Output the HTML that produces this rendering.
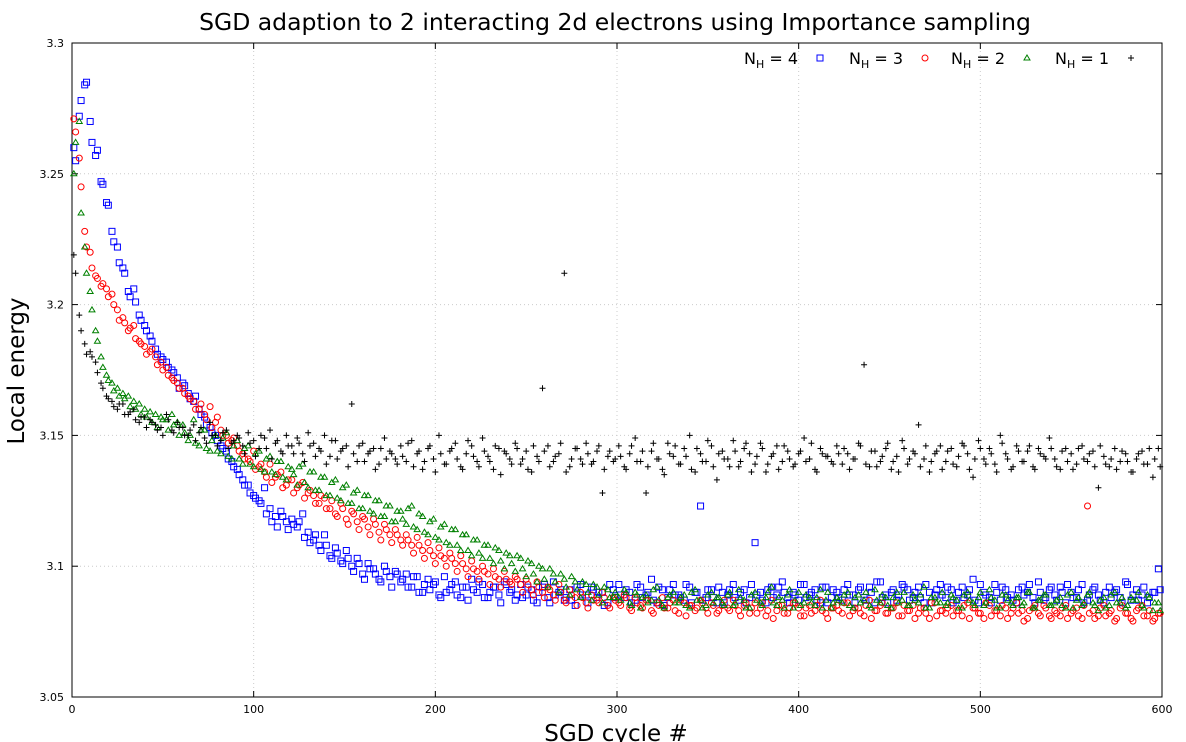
<!DOCTYPE html>
<html><head><meta charset="utf-8"><style>
html,body{margin:0;padding:0;background:#fff;}
svg{display:block;font-family:"DejaVu Sans","Liberation Sans",sans-serif;}
</style></head><body>
<svg id="chart" width="1186" height="742" xmlns="http://www.w3.org/2000/svg">
<text x="615" y="30" text-anchor="middle" font-size="23.5">SGD adaption to 2 interacting 2d electrons using Importance sampling</text>
<text transform="translate(24,371) rotate(-90)" text-anchor="middle" font-size="23">Local energy</text>
<text x="616" y="741" text-anchor="middle" font-size="23">SGD cycle #</text>
<g id="grid"></g>
<g id="axes"></g>
<g id="marks"></g>
<g id="legend"></g>
</svg>
<script>
// Values stored as offsets in units of 0.001 above 3.0 (local energy = 3 + v/1000)
const cyclesA = [];
for (let c = 1; c < 600; c += 3) cyclesA.push(c);
const cyclesB = [];
for (let c = 2; c < 600; c += 3) cyclesB.push(c);
const xTicks = [0,100,200,300,400,500,600];
const yTicks = [3.05,3.1,3.15,3.2,3.25,3.3];
const yTickLabels = ["3.05","3.1","3.15","3.2","3.25","3.3"];
const seriesNames = ["N_H = 4","N_H = 3","N_H = 2","N_H = 1"];
const nh4Energy = [260,272,284,270,257,247,239,228,222,214,205,206,196,192,188,183,180,178,175,172,
170,166,163,160,157,153,150,146,144,140,137,133,131,127,125,130,122,119,121,117,
118,115,120,113,110,108,112,104,107,102,106,100,103,97,101,99,95,100,96,98,
94,97,92,96,90,95,93,89,96,91,94,88,92,95,90,93,88,92,89,94,
90,87,93,89,91,86,92,88,94,90,87,91,85,93,89,92,88,90,86,91,
93,88,90,87,92,89,95,86,91,88,93,89,87,92,90,123,88,91,86,90,
89,93,87,91,88,109,90,86,92,89,94,88,90,87,93,89,91,86,92,88,
90,87,93,89,91,88,92,86,94,89,90,87,93,91,88,92,86,90,89,93,
88,91,87,92,89,95,86,90,88,93,87,91,89,86,92,90,88,94,87,91,
89,92,86,90,88,93,87,91,89,86,92,90,88,94,87,91,89,86,90,99];
const nh4EnergyB = [255,278,285,262,259,246,238,224,216,212,203,201,194,190,186,181,179,176,174,168,
169,164,165,158,154,151,148,145,141,138,135,131,128,126,124,120,117,115,119,114,
116,117,111,109,112,106,108,103,105,101,103,98,101,95,99,97,94,98,92,97,
95,92,96,90,93,91,94,88,90,93,89,92,87,91,94,88,90,92,86,93,
91,89,88,92,87,90,93,86,89,91,88,87,92,89,86,91,90,85,93,88,
89,91,86,93,88,90,87,92,85,91,89,88,93,86,90,87,91,88,92,86,
91,88,90,86,93,89,87,91,88,92,90,86,89,93,88,90,87,92,86,91,
88,91,89,86,92,87,90,94,88,86,91,89,92,87,90,88,93,86,91,89,
92,86,90,88,91,87,93,89,86,90,92,88,87,91,89,93,86,90,88,92,
87,90,93,88,91,86,89,92,87,90,88,91,86,93,89,87,92,88,90,91];
const nh3Energy = [271,256,228,220,211,207,206,204,198,195,190,192,186,184,182,180,178,176,172,170,
168,165,163,160,158,161,155,152,150,148,146,143,141,144,138,136,139,134,136,131,
133,130,132,128,127,124,126,122,120,124,118,121,117,119,115,118,113,116,112,114,
110,112,108,111,106,109,104,107,103,105,101,104,99,102,98,100,97,99,95,98,
94,96,93,95,91,94,90,92,89,93,87,91,88,90,86,89,87,90,85,88,
86,89,84,88,85,87,83,86,88,84,87,82,86,85,83,87,84,86,82,85,
84,87,83,85,82,86,84,81,87,83,85,82,86,84,81,85,83,87,82,84,
85,82,86,83,84,81,87,83,85,82,84,86,81,83,85,82,84,80,86,83,
82,85,83,81,86,84,82,80,85,83,81,84,82,86,83,80,84,82,85,81,
83,81,85,82,84,80,123,83,81,85,82,79,84,82,80,83,85,81,79,82];
const nh3EnergyB = [266,245,222,214,210,208,203,200,194,193,191,187,185,181,183,177,175,173,171,168,
166,164,160,162,156,153,157,150,147,149,144,141,140,137,139,134,132,135,130,133,
128,131,126,129,124,127,122,125,119,122,116,120,114,118,112,116,110,114,109,112,
108,110,105,108,103,106,101,104,100,103,98,101,96,99,95,98,93,96,92,95,
93,95,90,93,89,92,88,91,87,90,86,89,85,88,84,87,86,88,84,87,
85,88,83,86,84,87,82,85,84,86,83,87,81,85,84,86,82,85,83,87,
83,85,81,86,84,82,86,83,80,85,82,84,86,81,84,82,85,83,80,84,
83,86,81,84,82,85,80,83,86,82,84,81,85,83,80,84,82,86,81,83,
84,81,83,85,80,84,82,86,81,83,85,80,84,82,79,83,85,81,84,80,
82,84,80,83,81,85,82,80,84,81,83,80,85,82,79,84,81,83,80,82];
const nh2Energy = [250,270,222,205,190,180,173,170,168,166,165,163,162,160,159,158,157,156,158,155,
154,148,156,146,152,144,150,143,151,141,148,139,146,138,144,136,142,135,140,133,
137,131,139,130,136,129,134,127,133,125,131,124,129,122,127,120,125,119,123,117,
121,116,123,114,119,112,118,110,116,108,114,106,112,104,110,103,108,101,106,99,
104,98,103,96,101,94,99,92,97,90,95,89,94,88,93,87,92,86,91,88,
88,91,86,90,84,89,87,92,85,88,90,86,89,84,91,87,85,90,88,86,
89,85,91,87,84,90,86,88,92,85,87,89,84,90,86,88,85,91,87,84,
88,86,90,84,89,87,85,91,86,88,84,90,87,85,89,86,92,84,88,86,
85,89,87,84,90,86,88,85,91,87,84,89,86,88,85,90,84,87,89,85,
86,88,84,90,87,85,89,86,83,88,85,90,86,84,88,87,85,89,83,86];
const nh2EnergyB = [262,235,212,198,186,176,171,167,165,164,161,160,158,157,155,153,156,152,154,150,
151,150,147,152,145,148,144,149,142,146,141,145,139,143,137,141,136,140,134,138,
135,138,132,136,129,134,127,132,126,130,124,128,122,127,121,125,119,123,117,121,
118,122,115,120,113,117,111,115,109,114,108,112,106,110,105,108,103,107,102,105,
101,104,99,102,97,100,95,99,94,97,92,96,91,94,90,93,89,92,88,90,
87,90,85,89,88,86,91,87,84,89,86,88,85,90,87,84,89,86,88,85,
90,86,88,84,89,87,85,90,86,88,84,91,87,85,89,86,88,84,90,86,
87,89,85,88,86,90,84,87,89,85,88,86,90,85,87,89,84,88,86,90,
86,88,84,89,87,85,90,86,88,84,89,87,85,88,86,90,84,87,89,85,
87,85,89,84,88,86,90,85,87,84,89,86,88,85,87,90,84,88,86,83];
const nh1Energy = [219,196,185,182,178,170,165,163,160,162,158,160,155,157,156,154,153,158,152,155,
153,150,154,151,149,155,150,148,152,147,150,146,151,148,145,149,152,147,144,150,
146,149,143,151,147,145,150,142,148,144,146,162,140,147,143,145,139,149,144,141,
146,140,148,143,137,145,141,150,139,144,147,138,143,146,140,149,142,137,145,144,
141,147,139,144,136,142,168,146,140,143,212,138,145,141,147,139,144,128,142,140,
146,138,143,149,140,128,144,141,137,147,142,139,145,150,136,143,140,146,133,144,
141,148,138,145,143,139,147,136,142,146,140,144,138,143,149,141,137,145,142,140,
146,139,143,141,147,177,138,144,140,145,137,142,148,139,144,154,141,136,143,146,
140,145,138,147,143,134,148,141,145,139,150,143,137,146,140,144,138,145,142,149,
141,137,145,143,139,146,140,144,130,142,138,145,140,143,136,141,144,139,134,145];
const nh1EnergyB = [212,190,181,180,174,168,164,161,162,158,159,156,157,153,155,152,150,156,151,153,
150,152,148,153,147,150,146,151,145,148,149,143,147,142,150,145,141,148,143,146,
143,147,140,146,142,144,139,148,141,145,138,143,146,140,144,137,145,141,143,139,
142,147,138,144,140,146,136,143,139,145,141,137,148,142,138,144,140,146,135,143,
139,145,141,137,146,140,144,138,142,147,136,141,145,139,143,140,146,137,144,141,
142,137,146,140,144,138,147,141,135,143,146,139,142,137,145,140,148,138,143,141,
138,144,140,147,136,142,145,139,143,137,146,141,139,144,140,147,136,143,142,139,
143,145,137,141,146,139,144,138,142,147,140,136,145,141,143,138,146,140,144,137,
144,139,142,146,137,141,145,139,143,136,147,141,138,144,140,146,137,143,141,145,
138,144,140,137,145,141,143,138,146,139,141,137,144,140,136,143,139,145,141,138];

const L=72,R=1162,T=43,B=697;
const xs = c => L + (c-0)/(600-0)*(R-L);
const ys = v => B - (v-3.05)/(3.3-3.05)*(B-T);
const NS="http://www.w3.org/2000/svg";
function mk(tag, attrs, parent){const e=document.createElementNS(NS,tag);for(const k in attrs)e.setAttribute(k,attrs[k]);parent.appendChild(e);return e;}
const grid=document.getElementById('grid'), axes=document.getElementById('axes'), marks=document.getElementById('marks'), legend=document.getElementById('legend');

yTicks.forEach((v,i)=>{
  const y=ys(v);
  if(i>0&&i<yTicks.length-1){
    const g=mk('line',{x1:L,x2:R,y1:y,y2:y,stroke:'#ccc','stroke-dasharray':'1,3'},grid);
    
    
  }
  mk('line',{x1:L,x2:L+6,y1:y,y2:y,stroke:'#000'},axes);
  mk('line',{x1:R,x2:R-6,y1:y,y2:y,stroke:'#000'},axes);
  const t=mk('text',{x:L-8,y:y+4,'text-anchor':'end','font-size':11},axes);
  t.textContent=yTickLabels[i];
  
  
});
xTicks.forEach((c,i)=>{
  const x=xs(c);
  if(i>0&&i<xTicks.length-1){
    const g=mk('line',{x1:x,x2:x,y1:T,y2:B,stroke:'#ccc','stroke-dasharray':'1,3'},grid);
    
    
  }
  mk('line',{x1:x,x2:x,y1:B,y2:B-6,stroke:'#000'},axes);
  mk('line',{x1:x,x2:x,y1:T,y2:T+6,stroke:'#000'},axes);
  const t=mk('text',{x:x,y:B+16,'text-anchor':'middle','font-size':11},axes);
  t.textContent=String(c);
  
  
});
const frame=mk('rect',{x:L,y:T,width:R-L,height:B-T,fill:'none',stroke:'#000'},axes);



function marker(kind,x,y,parent){
  let e;
  if(kind==='square') e=mk('rect',{x:x-3,y:y-3,width:6,height:6,fill:'none',stroke:'#0000ff','stroke-width':1},parent);
  else if(kind==='circle') e=mk('circle',{cx:x,cy:y,r:3,fill:'none',stroke:'#ff0000','stroke-width':1},parent);
  else if(kind==='tri') e=mk('path',{d:`M${x},${y-3}L${x+3},${y+2}L${x-3},${y+2}Z`,fill:'none',stroke:'#008000','stroke-width':1},parent);
  else e=mk('path',{d:`M${x-3},${y}H${x+3}M${x},${y-3}V${y+3}`,stroke:'#000','stroke-width':1},parent);
  return e;
}
const series=[[nh4Energy,nh4EnergyB,'square','nh4'],[nh3Energy,nh3EnergyB,'circle','nh3'],[nh2Energy,nh2EnergyB,'tri','nh2'],[nh1Energy,nh1EnergyB,'plus','nh1']];
series.forEach(([arrA,arrB,kind,nm])=>{
  const g=mk('g',{},marks);
  
  
  arrA.forEach((v,i)=>{
    const m=marker(kind,xs(cyclesA[i]),ys(3+v/1000),g);
    
    
  });
  arrB.forEach((v,i)=>{
    const m=marker(kind,xs(cyclesB[i]),ys(3+v/1000),g);
    
    
  });
});
const legX=[798,903,1005,1109], kinds=['square','circle','tri','plus'];
seriesNames.forEach((n,i)=>{
  const t=mk('text',{x:legX[i],y:64,'text-anchor':'end','font-size':16},legend);
  t.innerHTML='N<tspan font-size="11" dy="4">H</tspan><tspan dy="-4"> = '+n.split('= ')[1]+'</tspan>';
  
  
  const m=marker(kinds[i],legX[i]+22,58,legend);
  
  
});
</script>
</body></html>
